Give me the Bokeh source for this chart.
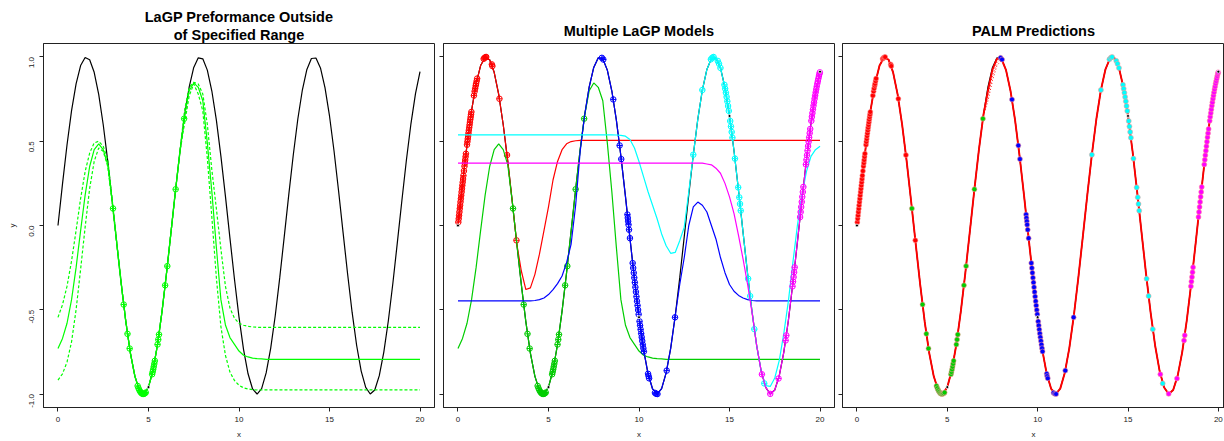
import math
from bokeh.plotting import figure
from bokeh.layouts import row
from bokeh.models import Range1d, FixedTicker, NumeralTickFormatter, Title, CustomLabelingPolicy
from bokeh.embed import file_html
from bokeh.resources import INLINE

# ---------------- data ----------------
XG = [0.0, 0.25, 0.5, 0.75, 1.0, 1.25, 1.5, 1.75, 2.0, 2.25, 2.5, 2.75, 3.0, 3.25, 3.5, 3.75,
      4.0, 4.25, 4.5, 4.75, 5.0, 5.25, 5.5, 5.75, 6.0, 6.25, 6.5, 6.75, 7.0, 7.25, 7.5, 7.75,
      8.0, 8.25, 8.5, 8.75, 9.0, 9.25, 9.5, 9.75, 10.0, 10.25, 10.5, 10.75, 11.0, 11.25, 11.5, 11.75,
      12.0, 12.25, 12.5, 12.75, 13.0, 13.25, 13.5, 13.75, 14.0, 14.25, 14.5, 14.75, 15.0, 15.25, 15.5, 15.75,
      16.0, 16.25, 16.5, 16.75, 17.0, 17.25, 17.5, 17.75, 18.0, 18.25, 18.5, 18.75, 19.0, 19.25, 19.5, 19.75, 20.0]

TRUE_Y = [0.000, 0.247, 0.479, 0.682, 0.841, 0.949, 0.997, 0.984, 0.909, 0.778,
          0.598, 0.382, 0.141, -0.108, -0.351, -0.572, -0.757, -0.895, -0.978, -0.999,
          -0.959, -0.859, -0.706, -0.508, -0.279, -0.033, 0.215, 0.450, 0.657, 0.823,
          0.938, 0.995, 0.989, 0.922, 0.798, 0.625, 0.412, 0.174, -0.075, -0.319,
          -0.544, -0.735, -0.880, -0.970, -1.000, -0.968, -0.875, -0.729, -0.537, -0.311,
          -0.066, 0.183, 0.420, 0.632, 0.804, 0.926, 0.991, 0.994, 0.935, 0.818,
          0.650, 0.442, 0.206, -0.042, -0.288, -0.516, -0.712, -0.864, -0.961, -1.000,
          -0.976, -0.891, -0.751, -0.565, -0.343, -0.099, 0.150, 0.390, 0.605, 0.783,
          0.913]

# LaGP (single model) prediction and band
LAGP_MEAN = [-0.730, -0.670, -0.580, -0.440, -0.250, -0.030, 0.180, 0.350, 0.450, 0.485,
             0.450, 0.360, 0.140, -0.108, -0.351, -0.572, -0.757, -0.895, -0.978, -0.999,
             -0.959, -0.859, -0.706, -0.508, -0.279, -0.033, 0.215, 0.450, 0.655, 0.800,
             0.846, 0.820, 0.740, 0.490, 0.200, -0.130, -0.440, -0.590, -0.665, -0.705,
             -0.745, -0.770, -0.780, -0.787, -0.790, -0.792, -0.794, -0.794, -0.794, -0.794,
             -0.794, -0.794, -0.794, -0.794, -0.794, -0.794, -0.794, -0.794, -0.794, -0.794,
             -0.794, -0.794, -0.794, -0.794, -0.794, -0.794, -0.794, -0.794, -0.794, -0.794,
             -0.794, -0.794, -0.794, -0.794, -0.794, -0.794, -0.794, -0.794, -0.794, -0.794,
             -0.794]
LAGP_UP = [-0.545, -0.470, -0.360, -0.210, -0.030, 0.160, 0.320, 0.430, 0.490, 0.500,
           0.470, 0.390, 0.150, -0.100, -0.345, -0.568, -0.755, -0.893, -0.977, -0.998,
           -0.958, -0.857, -0.703, -0.505, -0.275, -0.028, 0.220, 0.455, 0.690, 0.820,
           0.850, 0.840, 0.780, 0.600, 0.330, 0.100, -0.140, -0.360, -0.490, -0.550,
           -0.580, -0.592, -0.598, -0.602, -0.604, -0.605, -0.605, -0.605, -0.605, -0.605,
           -0.605, -0.605, -0.605, -0.605, -0.605, -0.605, -0.605, -0.605, -0.605, -0.605,
           -0.605, -0.605, -0.605, -0.605, -0.605, -0.605, -0.605, -0.605, -0.605, -0.605,
           -0.605, -0.605, -0.605, -0.605, -0.605, -0.605, -0.605, -0.605, -0.605, -0.605,
           -0.605]
LAGP_LO = [-0.917, -0.880, -0.810, -0.690, -0.500, -0.260, -0.010, 0.220, 0.380, 0.460,
           0.440, 0.350, 0.130, -0.116, -0.357, -0.576, -0.759, -0.897, -0.979, -1.000,
           -0.960, -0.861, -0.709, -0.511, -0.283, -0.038, 0.210, 0.445, 0.610, 0.770,
           0.840, 0.780, 0.680, 0.400, 0.050, -0.310, -0.600, -0.770, -0.870, -0.920,
           -0.948, -0.963, -0.970, -0.974, -0.976, -0.976, -0.976, -0.976, -0.976, -0.976,
           -0.976, -0.976, -0.976, -0.976, -0.976, -0.976, -0.976, -0.976, -0.976, -0.976,
           -0.976, -0.976, -0.976, -0.976, -0.976, -0.976, -0.976, -0.976, -0.976, -0.976,
           -0.976, -0.976, -0.976, -0.976, -0.976, -0.976, -0.976, -0.976, -0.976, -0.976,
           -0.976]

# Multiple LaGP models
RED_PRED = [0.000, 0.247, 0.479, 0.682, 0.841, 0.949, 0.997, 0.984, 0.909, 0.778,
            0.598, 0.382, 0.141, -0.110, -0.270, -0.380, -0.370, -0.290, -0.170, -0.030,
            0.110, 0.270, 0.380, 0.450, 0.485, 0.498, 0.503, 0.505, 0.505, 0.505,
            0.505, 0.505, 0.505, 0.505, 0.505, 0.505, 0.505, 0.505, 0.505, 0.505,
            0.505, 0.505, 0.505, 0.505, 0.505, 0.505, 0.505, 0.505, 0.505, 0.505,
            0.505, 0.505, 0.505, 0.505, 0.505, 0.505, 0.505, 0.505, 0.505, 0.505,
            0.505, 0.505, 0.505, 0.505, 0.505, 0.505, 0.505, 0.505, 0.505, 0.505,
            0.505, 0.505, 0.505, 0.505, 0.505, 0.505, 0.505, 0.505, 0.505, 0.505,
            0.505]
BLUE_PRED = [-0.447, -0.447, -0.447, -0.447, -0.447, -0.447, -0.447, -0.447, -0.447, -0.447,
             -0.447, -0.447, -0.447, -0.447, -0.447, -0.447, -0.447, -0.445, -0.440, -0.430,
             -0.410, -0.380, -0.345, -0.300, -0.220, -0.110, 0.120, 0.440, 0.657, 0.823,
             0.938, 0.995, 0.989, 0.922, 0.798, 0.625, 0.412, 0.174, -0.075, -0.319,
             -0.544, -0.735, -0.880, -0.970, -1.000, -0.968, -0.875, -0.729, -0.537, -0.350,
             -0.190, 0.000, 0.110, 0.139, 0.120, 0.080, 0.000, -0.080, -0.190, -0.280,
             -0.350, -0.390, -0.415, -0.430, -0.440, -0.445, -0.447, -0.447, -0.447, -0.447,
             -0.447, -0.447, -0.447, -0.447, -0.447, -0.447, -0.447, -0.447, -0.447, -0.447,
             -0.447]
CYAN_PRED = [0.538, 0.538, 0.538, 0.538, 0.538, 0.538, 0.538, 0.538, 0.538, 0.538,
             0.538, 0.538, 0.538, 0.538, 0.538, 0.538, 0.538, 0.538, 0.538, 0.538,
             0.538, 0.538, 0.538, 0.538, 0.538, 0.538, 0.538, 0.538, 0.538, 0.538,
             0.538, 0.538, 0.538, 0.538, 0.538, 0.537, 0.535, 0.530, 0.510, 0.460,
             0.380, 0.290, 0.200, 0.120, 0.040, -0.050, -0.120, -0.165, -0.160, -0.090,
             -0.010, 0.200, 0.420, 0.632, 0.804, 0.926, 0.991, 0.994, 0.935, 0.818,
             0.650, 0.442, 0.206, -0.042, -0.288, -0.516, -0.712, -0.864, -0.950, -0.955,
             -0.905, -0.800, -0.640, -0.450, -0.220, 0.000, 0.180, 0.320, 0.410, 0.450,
             0.470]
MAGENTA_PRED = [0.370, 0.370, 0.370, 0.370, 0.370, 0.370, 0.370, 0.370, 0.370, 0.370,
                0.370, 0.370, 0.370, 0.370, 0.370, 0.370, 0.370, 0.370, 0.370, 0.370,
                0.370, 0.370, 0.370, 0.370, 0.370, 0.370, 0.370, 0.370, 0.370, 0.370,
                0.370, 0.370, 0.370, 0.370, 0.370, 0.370, 0.370, 0.370, 0.370, 0.370,
                0.370, 0.370, 0.370, 0.370, 0.370, 0.370, 0.370, 0.370, 0.370, 0.370,
                0.370, 0.370, 0.370, 0.370, 0.370, 0.365, 0.360, 0.340, 0.310, 0.250,
                0.170, 0.070, -0.060, -0.200, -0.350, -0.520, -0.712, -0.864, -0.961, -1.000,
                -0.976, -0.891, -0.751, -0.565, -0.343, -0.099, 0.150, 0.390, 0.605, 0.783,
                0.913]

# PALM prediction
PALM_PRED = [0.000, 0.247, 0.479, 0.682, 0.841, 0.949, 0.997, 0.984, 0.909, 0.778,
             0.598, 0.382, 0.141, -0.108, -0.351, -0.572, -0.757, -0.895, -0.978, -0.999,
             -0.959, -0.859, -0.706, -0.508, -0.279, -0.033, 0.215, 0.450, 0.657, 0.800,
             0.925, 0.990, 0.989, 0.922, 0.798, 0.625, 0.412, 0.174, -0.075, -0.319,
             -0.544, -0.735, -0.880, -0.970, -1.000, -0.968, -0.875, -0.729, -0.537, -0.311,
             -0.066, 0.183, 0.420, 0.632, 0.804, 0.926, 0.991, 0.994, 0.935, 0.818,
             0.650, 0.442, 0.206, -0.042, -0.288, -0.516, -0.712, -0.864, -0.961, -1.000,
             -0.976, -0.891, -0.751, -0.565, -0.343, -0.099, 0.150, 0.390, 0.605, 0.783,
             0.913]
PALM_BAND_X = [7.0, 7.25, 7.5, 7.75, 8.0, 8.25]
PALM_BAND_A = [0.655, 0.770, 0.890, 0.970, 0.988, 0.922]
PALM_BAND_B = [0.650, 0.740, 0.860, 0.950, 0.980, 0.920]

# design points per local model
RED_X = [0.02, 0.04, 0.06, 0.08, 0.10, 0.12, 0.14, 0.16, 0.18, 0.20, 0.22, 0.24, 0.26, 0.28, 0.30,
         0.33, 0.36, 0.38, 0.40, 0.42, 0.44, 0.50, 0.52, 0.54, 0.56, 0.58, 0.60, 0.62, 0.64, 0.66,
         0.68, 0.70, 0.72, 0.74, 0.88, 0.92, 0.95, 0.98, 1.00, 1.03, 1.06, 1.42, 1.47, 1.52, 1.56,
         1.87, 1.90, 2.29, 2.71, 3.23]
RED_Y = [0.020, 0.040, 0.060, 0.080, 0.100, 0.120, 0.140, 0.159, 0.179, 0.199, 0.218, 0.238, 0.257, 0.276, 0.296,
         0.324, 0.352, 0.371, 0.389, 0.408, 0.426, 0.479, 0.497, 0.514, 0.531, 0.548, 0.565, 0.581, 0.597, 0.613,
         0.629, 0.644, 0.659, 0.674, 0.771, 0.796, 0.813, 0.830, 0.841, 0.857, 0.872, 0.989, 0.995, 0.999, 1.000,
         0.956, 0.946, 0.752, 0.418, -0.088]
GREEN_X = [3.04, 3.63, 3.84, 3.96, 4.40, 4.45, 4.50, 4.55, 4.60, 4.65, 4.70, 4.75, 4.80, 4.85,
           5.20, 5.23, 5.26, 5.29, 5.32, 5.35, 5.50, 5.54, 5.58, 5.92, 6.04, 6.50, 6.97]
GREEN_Y = [0.101, -0.469, -0.643, -0.730, -0.952, -0.966, -0.978, -0.987, -0.994, -0.998, -1.000, -0.999, -0.996, -0.991,
           -0.883, -0.869, -0.854, -0.838, -0.821, -0.803, -0.706, -0.677, -0.647, -0.355, -0.241, 0.215, 0.634]
BLUE_X = [7.95, 8.03, 8.58, 8.93, 9.02, 9.36, 9.38, 9.40, 9.42, 9.45, 9.50, 9.65, 9.68, 9.71, 9.74, 9.77,
          9.80, 9.83, 9.86, 9.89, 9.92, 9.95, 9.98, 10.03, 10.06, 10.09, 10.12, 10.15, 10.18, 10.21, 10.24,
          10.27, 10.50, 10.53, 10.56, 10.88, 10.95, 11.02, 11.53, 11.99]
BLUE_Y = [0.995, 0.985, 0.748, 0.475, 0.394, 0.065, 0.045, 0.025, 0.005, -0.025, -0.075, -0.223, -0.252, -0.281, -0.310, -0.338,
          -0.366, -0.394, -0.422, -0.449, -0.475, -0.501, -0.527, -0.569, -0.593, -0.617, -0.641, -0.663, -0.685, -0.707, -0.728,
          -0.748, -0.880, -0.894, -0.907, -0.993, -0.999, -1.000, -0.861, -0.545]
CYAN_X = [13.00, 13.50, 13.97, 14.05, 14.12, 14.35, 14.42, 14.50, 14.72, 14.76, 14.80, 14.84, 14.88, 14.92,
          14.96, 15.04, 15.08, 15.12, 15.16, 15.30, 15.48, 15.54, 15.58, 15.62, 16.03, 16.14, 16.37, 16.92]
CYAN_Y = [0.420, 0.804, 0.986, 0.996, 1.000, 0.977, 0.960, 0.935, 0.835, 0.812, 0.788, 0.763, 0.737, 0.709,
          0.680, 0.620, 0.588, 0.555, 0.521, 0.397, 0.226, 0.167, 0.128, 0.088, -0.316, -0.419, -0.615, -0.937]
MAGENTA_X = [16.79, 17.25, 17.71, 18.10, 18.14, 18.48, 18.51, 18.54, 18.57, 18.60, 18.90, 18.93, 18.96, 18.99,
             19.02, 19.05, 19.08, 19.22, 19.25, 19.28, 19.31, 19.34, 19.37, 19.40, 19.43, 19.46, 19.52, 19.55,
             19.58, 19.61, 19.64, 19.67, 19.70, 19.73, 19.76, 19.79, 19.82, 19.85, 19.88, 19.91, 19.94, 19.97, 19.99]
MAGENTA_Y = [-0.883, -0.999, -0.908, -0.682, -0.652, -0.361, -0.333, -0.306, -0.277, -0.248, 0.050, 0.080, 0.110, 0.140,
             0.170, 0.199, 0.229, 0.362, 0.390, 0.417, 0.444, 0.471, 0.497, 0.523, 0.548, 0.573, 0.621, 0.645,
             0.667, 0.689, 0.711, 0.731, 0.752, 0.771, 0.790, 0.808, 0.825, 0.842, 0.857, 0.872, 0.887, 0.900, 0.909]
REF_X = [0.0, 5.0, 10.0, 15.0, 20.0]
REF_Y = [0.000, -0.959, -0.544, 0.650, 0.913]

X_TICKS = [0, 5, 10, 15, 20]
Y_TICKS = [-1.0, -0.5, 0.0, 0.5, 1.0]

TITLE1 = ["LaGP Preformance Outside", "of Specified Range"]
TITLE2 = "Multiple LaGP Models"
TITLE3 = "PALM Predictions"

# ---------------- styling ----------------
FONT = "Liberation Sans"
H = 441
LIME = "#00FF00"
GREEN3 = "#00CD00"
RED = "#FF0000"
BLUE = "#0000FF"
CYAN = "#00FFFF"
MAGENTA = "#FF00FF"

NO_LABELS = CustomLabelingPolicy(code="""
const ids = [...indices]
for (const i of ids) indices.unset(i)
return indices
""")


def base_fig(width, left, right, x_end, ylabels):
    p = figure(width=width, height=H, title=None,
               x_range=Range1d(-0.8, x_end), y_range=Range1d(-1.08, 1.08),
               output_backend="svg", toolbar_location=None,
               min_border_left=left, min_border_right=right,
               min_border_top=43, min_border_bottom=34)
    p.background_fill_color = "white"
    p.border_fill_color = "white"
    p.outline_line_color = "#222222"
    p.outline_line_width = 1
    p.xgrid.visible = False
    p.ygrid.visible = False
    for ax in (p.xaxis[0], p.yaxis[0]):
        ax.minor_tick_line_color = None
        ax.major_tick_out = 4
        ax.major_tick_in = 0
        ax.major_tick_line_color = "#222222"
        ax.axis_line_color = "#222222"
        ax.major_label_text_font = FONT
        ax.major_label_text_font_size = "8px"
        ax.major_label_text_color = "#222222"
        ax.axis_label_text_font = FONT
        ax.axis_label_text_font_size = "8px"
        ax.axis_label_text_font_style = "normal"
        ax.axis_label_text_color = "#222222"
    p.xaxis.ticker = FixedTicker(ticks=X_TICKS)
    p.xaxis.major_label_standoff = 5
    p.xaxis.axis_label = "x"
    p.xaxis.axis_label_standoff = 5
    p.yaxis.ticker = FixedTicker(ticks=Y_TICKS)
    p.yaxis.formatter = NumeralTickFormatter(format="0.0")
    if ylabels:
        p.yaxis.major_label_orientation = math.pi / 2
        p.yaxis.major_label_standoff = 8
        p.yaxis.axis_label = "y"
        p.yaxis.axis_label_standoff = 7
    else:
        p.yaxis.major_label_overrides = {t: "" for t in Y_TICKS}
        p.yaxis.major_label_policy = NO_LABELS
        p.yaxis.major_label_standoff = 0
    return p


def add_title(p, text, standoff):
    p.add_layout(Title(text=text, align="center", text_font=FONT, text_font_size="14.5px",
                       text_font_style="bold", text_color="black", standoff=standoff), "above")


# ---------------- panel 1 ----------------
p1 = base_fig(436, 43, 2, 20.8, True)
add_title(p1, TITLE1[1], 1)
add_title(p1, TITLE1[0], 0)
p1.line(XG, TRUE_Y, line_color="black", line_width=1.2)
p1.line(XG, LAGP_UP, line_color=LIME, line_width=1.2, line_dash="3 2")
p1.line(XG, LAGP_LO, line_color=LIME, line_width=1.2, line_dash="3 2")
p1.line(XG, LAGP_MEAN, line_color=LIME, line_width=1.2)
p1.scatter(GREEN_X, GREEN_Y, marker="circle_cross", size=5.5, line_color=LIME,
           fill_color=None, line_width=1)
p1.scatter(REF_X[1:2], REF_Y[1:2], marker="circle", size=3, line_color="white",
           fill_color="black", line_width=0.8)

# ---------------- panel 2 ----------------
p2 = base_fig(400, 7, 2, 20.8, False)
add_title(p2, TITLE2, 10)
p2.line(XG, TRUE_Y, line_color="black", line_width=1.2)
for xs, ys, pred, col in ((RED_X, RED_Y, RED_PRED, RED),
                          (GREEN_X, GREEN_Y, LAGP_MEAN, GREEN3),
                          (BLUE_X, BLUE_Y, BLUE_PRED, BLUE),
                          (CYAN_X, CYAN_Y, CYAN_PRED, CYAN),
                          (MAGENTA_X, MAGENTA_Y, MAGENTA_PRED, MAGENTA)):
    p2.scatter(xs, ys, marker="circle_cross", size=5.5, line_color=col,
               fill_color=None, line_width=1)
    p2.line(XG, pred, line_color=col, line_width=1.2)
p2.scatter(REF_X, REF_Y, marker="circle", size=3, line_color="white",
           fill_color="black", line_width=0.8)

# ---------------- panel 3 ----------------
p3 = base_fig(388, 6, 0, 20.34, False)
add_title(p3, TITLE3, 10)
p3.line(XG, TRUE_Y, line_color="black", line_width=1.2)
p3.line(XG, PALM_PRED, line_color=RED, line_width=1.9)
p3.line(PALM_BAND_X, PALM_BAND_A, line_color=RED, line_width=1, line_dash="1 2")
p3.line(PALM_BAND_X, PALM_BAND_B, line_color=RED, line_width=1, line_dash="1 2")
for xs, ys, col in ((RED_X, RED_Y, RED), (GREEN_X, GREEN_Y, GREEN3), (BLUE_X, BLUE_Y, BLUE),
                    (CYAN_X, CYAN_Y, CYAN), (MAGENTA_X, MAGENTA_Y, MAGENTA)):
    p3.scatter(xs, ys, marker="circle", size=5, line_color="#ff9a9a", line_alpha=0.7,
               fill_color=col, line_width=0.8)
p3.scatter(REF_X, REF_Y, marker="circle", size=3, line_color="white",
           fill_color="black", line_width=0.8)

layout = row(p1, p2, p3)
open("out.html", "w").write(file_html(layout, INLINE))
